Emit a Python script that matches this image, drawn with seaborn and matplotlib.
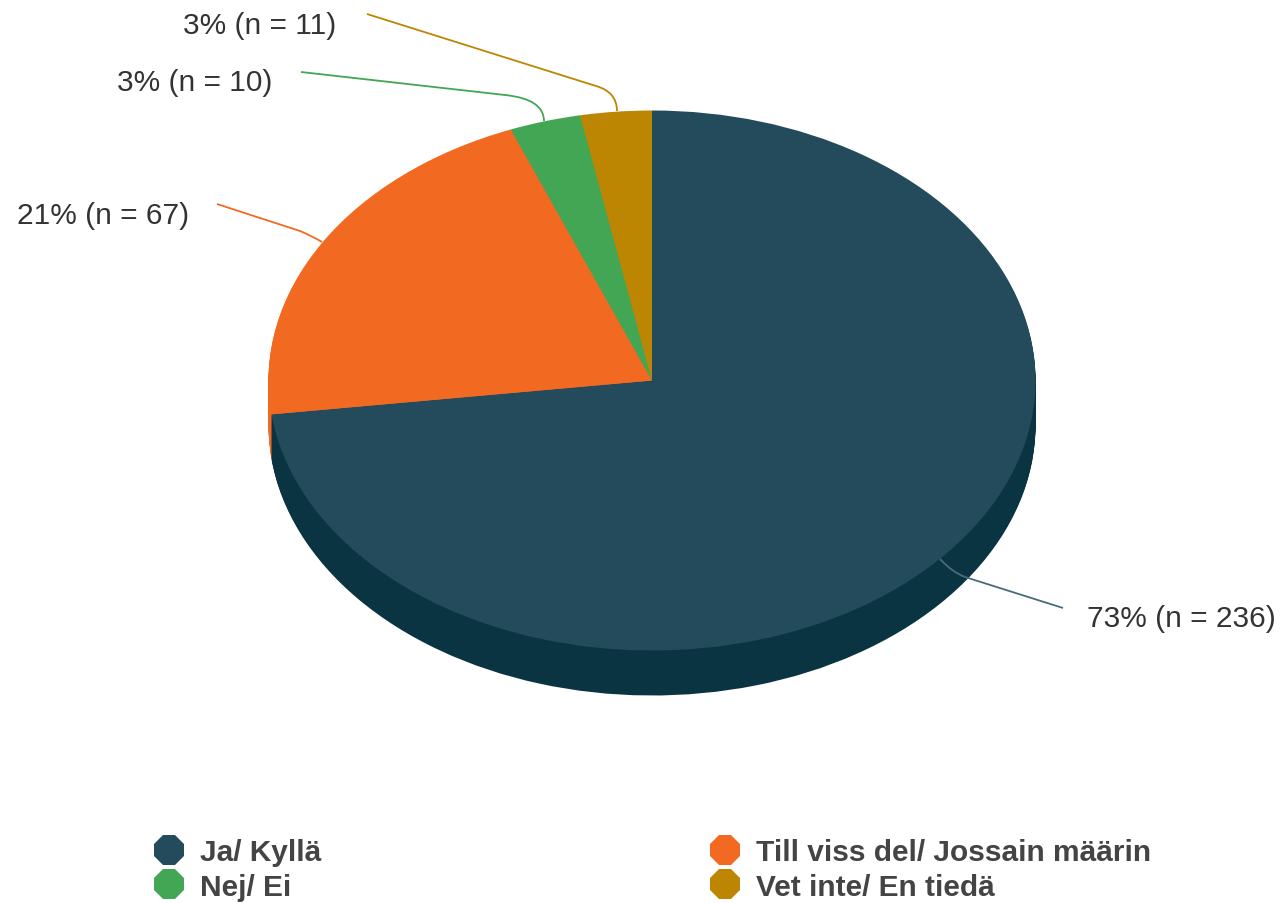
import matplotlib
matplotlib.use("Agg")
import matplotlib.pyplot as plt
import seaborn as sns
from matplotlib.lines import Line2D
from matplotlib.patches import PathPatch
from matplotlib.path import Path

categories = ["Ja/ Kyllä", "Till viss del/ Jossain määrin", "Nej/ Ei", "Vet inte/ En tiedä"]
counts = [236, 67, 10, 11]
percents = [73, 21, 3, 3]
top_colors = ["#234B5B", "#F26A22", "#43A654", "#BC8602"]
side_colors = ["#0B3443", "#F26A22", "#43A654", "#BC8602"]
line_colors = ["#4A6C7A", "#F26A22", "#43A654", "#BC8602"]

W, H = 1283, 904
DEPTH = 45

sns.set_theme(style="white")
plt.rcParams['font.family'] = ['Liberation Sans', 'DejaVu Sans']

fig = plt.figure(figsize=(W / 100, H / 100), dpi=100)


def pie_axes(cx, cy, rx, ry, colors):
    # axes spanning the ellipse box, pixel values measured from the top left
    ax = fig.add_axes([(cx - rx) / W, 1 - (cy + ry) / H, 2 * rx / W, 2 * ry / H])
    # slices follow the rounded percents, the original does too
    ax.pie(percents, colors=sns.color_palette(colors), startangle=90, counterclock=False,
           radius=1, wedgeprops={'linewidth': 0})
    ax.set_aspect('auto')
    ax.set_xlim(-1, 1)
    ax.set_ylim(-1, 1)
    ax.axis('off')
    return ax


# the 3D look: stack the pie upwards in the dark colours, then the top one
for d in range(DEPTH, 0, -1):
    pie_axes(652, 381.5 + d, 383.5, 270, side_colors)
pie_axes(652, 381.5, 383.5, 270, top_colors)

overlay = fig.add_axes([0, 0, 1, 1])
overlay.set_xlim(0, W)
overlay.set_ylim(H, 0)
overlay.axis('off')

# leader lines
codes = [Path.MOVETO, Path.LINETO, Path.CURVE3, Path.CURVE3]
leaders = [
    [(1063, 609), (965, 578), (952, 573), (940, 560)],
    [(217, 205), (300, 232), (312, 237), (322, 243)],
    [(301, 73), (505, 96), (544, 100), (544, 122)],
    [(367, 15), (596, 87), (617, 93), (617, 112)],
]
for pts, color in zip(leaders, line_colors):
    overlay.add_patch(PathPatch(Path(pts, codes), fc='none', ec=color, lw=1.3))

label_pos = [(1087, 619), (17, 216), (117, 83), (183, 26)]
for pos, pct, n in zip(label_pos, percents, counts):
    overlay.text(pos[0], pos[1], f"{pct}% (n = {n})", fontsize=21.5, color='#333333',
                 ha='left', va='center')

# legend, octagon markers like the original
handles = [Line2D([], [], linestyle='none', marker='8', markersize=23, color=c, markeredgewidth=0)
           for c in top_colors]
order = [0, 2, 1, 3]
leg = overlay.legend([handles[i] for i in order], [categories[i] for i in order],
                     ncol=2, loc='upper left', bbox_to_anchor=(154 / W, 1 - 839 / H),
                     frameon=False, fontsize=21.5, labelspacing=0.23, handletextpad=0.535,
                     columnspacing=13.04, handlelength=1.0, borderpad=0, borderaxespad=0)
for t in leg.get_texts():
    t.set_color('#444444')
    t.set_fontweight('bold')

fig.savefig("out.png", dpi=100)
